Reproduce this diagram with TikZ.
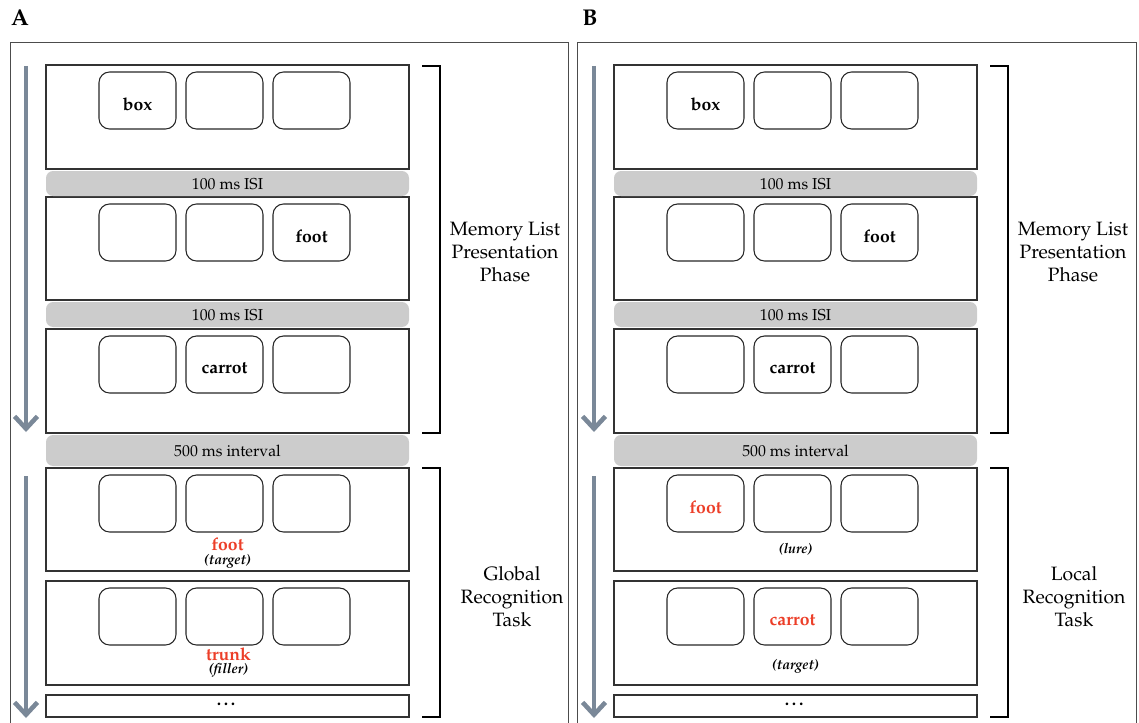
\documentclass[tikz,border=0pt]{standalone}
\usepackage[T1]{fontenc}
\renewcommand{\rmdefault}{ppl}
\usetikzlibrary{arrows.meta}
\definecolor{slategray}{RGB}{122,136,152}
\definecolor{barfill}{RGB}{204,204,204}
\definecolor{wordred}{RGB}{236,62,40}
\tikzset{
  screen/.style={draw=black!80, line width=0.6pt},
  slot/.style={draw=black!85, line width=0.6pt, rounded corners=6pt},
  isibar/.style={fill=barfill, rounded corners=4pt},
  timearrow/.style={slategray, line width=2.6pt, -{Straight Barb[length=7pt,width=13pt,line width=2.6pt]}},
  phase/.style={black, line width=1.2pt},
  word/.style={font=\fontsize{10}{12}\selectfont\bfseries},
  note/.style={font=\fontsize{8}{10}\selectfont\bfseries\itshape},
  isitext/.style={font=\fontsize{9}{11}\selectfont},
  phasetext/.style={align=center, font=\fontsize{11}{13}\selectfont}
}
\begin{document}
\begin{tikzpicture}[x=0.02cm,y=-0.02cm]
\useasboundingbox (0,0) rectangle (1139,723);
%%% panel frames and letters
\node[font=\fontsize{13}{15}\selectfont\bfseries] (labA) at (20,18) {A};
\node[font=\fontsize{13}{15}\selectfont\bfseries] (labB) at (590,18) {B};
\draw[black!70, line width=0.5pt] (10,730) |- (568,42) -- (568,730);
\draw[black!70, line width=0.5pt] (577,730) |- (1136,42) -- (1136,730);
%%% both panels share the same screens
\foreach \p/\dx in {A/0, B/568}{
  \begin{scope}[xshift=\dx*0.02cm]
  %%% the memory list screens
  \foreach \s/\top/\bot in {1/65/169, 2/197/300, 3/329/433, 4/468/571, 5/581/685}{
    \draw[screen] (46,\top) rectangle (409,\bot);
    \foreach \k/\x in {1/99, 2/186, 3/273}
      \draw[slot] (\x,\top+7) rectangle (\x+77,\top+64)
        node[midway] (\p s\s b\k) {};
  }
  \node[screen, minimum width=363*0.02cm, minimum height=22*0.02cm, inner sep=0pt]
    (\p more) at (227.5,706) {\raisebox{2pt}{\bfseries\dots}};
  %%% the gray gaps
  \fill[isibar] (46,171) rectangle (409,196);
  \node[isitext] (\p isi1) at (227.5,184) {100 ms ISI};
  \fill[isibar] (46,302) rectangle (409,327);
  \node[isitext] (\p isi2) at (227.5,315) {100 ms ISI};
  \fill[isibar] (46,435) rectangle (409,466);
  \node[isitext] (\p gap) at (227.5,451) {500 ms interval};
  %%% the time arrows
  \coordinate (\p t1) at (26,66);
  \coordinate (\p t2) at (26,432);
  \coordinate (\p t3) at (26,476);
  \coordinate (\p t4) at (26,718);
  \draw[timearrow] (\p t1) -- (\p t2);
  \draw[timearrow] (\p t3) -- (\p t4);
  %%% the brackets
  \draw[phase] (422,66) -- (440,66) -- (440,433) -- (422,433);
  \draw[phase] (422,468) -- (440,468) -- (440,717) -- (422,717);
  \node[phasetext] (\p mem) at (505,252) {Memory List\\Presentation\\Phase};
  \end{scope}
}
%%% the studied words
\node[word, yshift=-2pt] (wA1) at (As1b1) {box};
\node[word, yshift=-2pt] (wA2) at (As2b3) {foot};
\node[word, yshift=-2pt] (wA3) at (As3b2) {carrot};
\node[word, yshift=-2pt] (wB1) at (Bs1b1) {box};
\node[word, yshift=-2pt] (wB2) at (Bs2b3) {foot};
\node[word, yshift=-2pt] (wB3) at (Bs3b2) {carrot};
%%% global test
\node[word, text=wordred] (tA1) at (227.5,544) {foot};
\node[note] (nA1) at (227.5,561) {(target)};
\node[word, text=wordred] (tA2) at (228.5,654) {trunk};
\node[note] (nA2) at (228.5,670) {(filler)};
\node[phasetext] (globtask) at (512,597) {Global\\Recognition\\Task};
%%% local test
\node[word, text=wordred, yshift=-2pt] (tB1) at (Bs4b1) {foot};
\node[note] (nB1) at (795.5,549) {(lure)};
\node[word, text=wordred, yshift=-2pt] (tB2) at (Bs5b2) {carrot};
\node[note] (nB2) at (795.5,666) {(target)};
\node[phasetext] (loctask) at (1074,597) {Local\\Recognition\\Task};
\end{tikzpicture}
\end{document}
